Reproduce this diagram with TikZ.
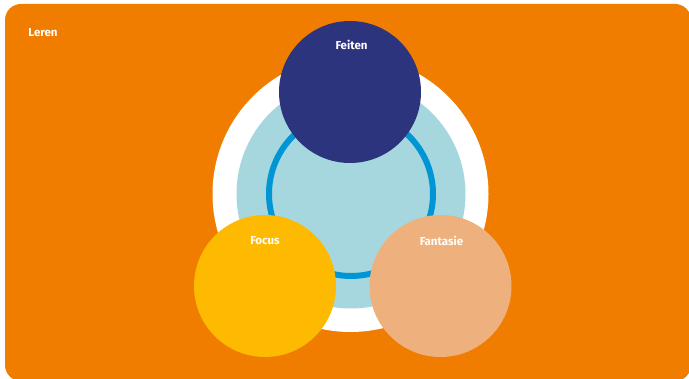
\documentclass[tikz,border=0pt]{standalone}
\usepackage{fontspec}
\setmainfont{Fira Sans}
\definecolor{bgorange}{HTML}{F07D00}
\definecolor{navy}{HTML}{2B347C}
\definecolor{paleblue}{HTML}{A6D7DE}
\definecolor{ringblue}{HTML}{0096D6}
\definecolor{sun}{HTML}{FDBA00}
\definecolor{peach}{HTML}{EEB07C}
\tikzset{
  disc/.style={circle, minimum size=142pt, inner sep=0pt},
  lbl/.style={text=white, font=\fontsize{11.5}{13}\selectfont\bfseries, inner sep=0pt}
}
\begin{document}
\begin{tikzpicture}[x=1pt, y=-1pt]
  \useasboundingbox (0,0) rectangle (689,379);
  \fill[white] (0,0) rectangle (689,379);
  \begin{scope}
    \clip (0,0) rectangle (689,379);
    \fill[bgorange, rounded corners=16pt] (5,4) rectangle (691,381);
  \end{scope}
  \node[lbl] (leren) at (43,33) {Leren};
  % concentric background rings
  \fill[white] (350.5,194) circle (138pt);
  \fill[paleblue] (351,194) circle (114.5pt);
  \draw[ringblue, line width=6pt] (351,194) circle (82pt);
  % three main circles
  \node[disc, fill=navy] (feiten) at (350,92) {};
  \node[disc, fill=sun] (focus) at (265,286) {};
  \node[disc, fill=peach] (fantasie) at (440.5,286) {};
  \node[lbl] at (351.5,45) {Feiten};
  \node[lbl] at (265,241) {Focus};
  \node[lbl] at (441.5,241) {Fantasie};
\end{tikzpicture}
\end{document}
